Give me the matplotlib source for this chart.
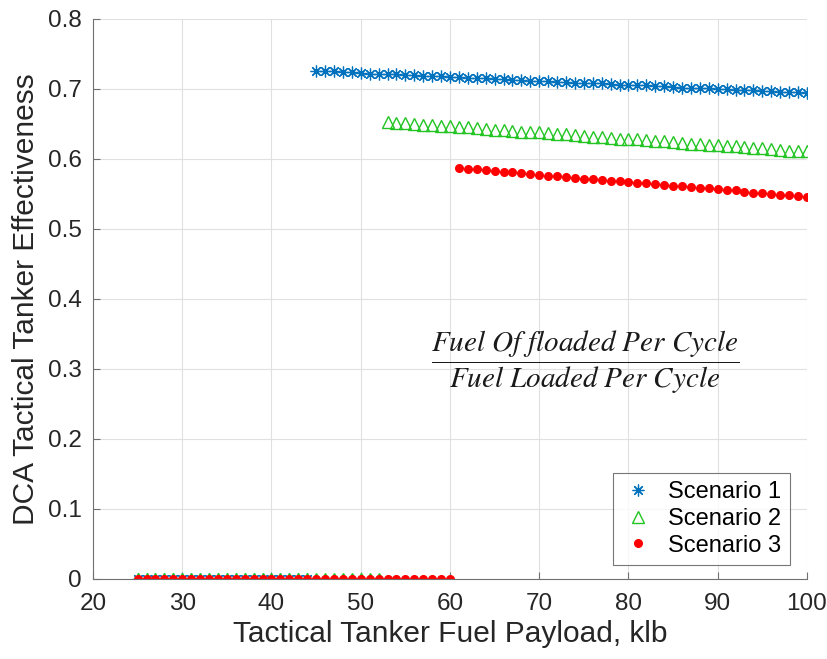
import numpy as np
import matplotlib.pyplot as plt

# x values (fuel payload, klb)
payload = np.arange(25, 101)

# Scenario 1: zero until 44 klb, then effectiveness
s1_zero = [0.0] * 20
s1_vals = [0.726, 0.725, 0.725, 0.724, 0.724, 0.723, 0.722, 0.722, 0.721, 0.721,
           0.720, 0.720, 0.719, 0.718, 0.718, 0.717, 0.717, 0.716, 0.716, 0.715,
           0.714, 0.714, 0.713, 0.713, 0.712, 0.712, 0.711, 0.710, 0.710, 0.709,
           0.709, 0.708, 0.708, 0.707, 0.706, 0.706, 0.705, 0.705, 0.704, 0.704,
           0.703, 0.702, 0.702, 0.701, 0.701, 0.700, 0.700, 0.699, 0.698, 0.698,
           0.697, 0.697, 0.696, 0.696, 0.695, 0.694]

# Scenario 2: zero until 52 klb
s2_zero = [0.0] * 28
s2_vals = [0.653, 0.652, 0.651, 0.650, 0.649, 0.648, 0.647, 0.647, 0.646, 0.645,
           0.644, 0.643, 0.642, 0.641, 0.640, 0.639, 0.638, 0.638, 0.637, 0.636,
           0.635, 0.634, 0.633, 0.632, 0.631, 0.630, 0.629, 0.629, 0.628, 0.627,
           0.626, 0.625, 0.624, 0.623, 0.622, 0.621, 0.620, 0.620, 0.619, 0.618,
           0.617, 0.616, 0.615, 0.614, 0.613, 0.612, 0.612, 0.611]

# Scenario 3: zero until 60 klb
s3_zero = [0.0] * 36
s3_vals = [0.587, 0.586, 0.585, 0.584, 0.583, 0.582, 0.581, 0.580, 0.578, 0.577,
           0.576, 0.575, 0.574, 0.573, 0.572, 0.571, 0.570, 0.569, 0.568, 0.567,
           0.566, 0.565, 0.564, 0.563, 0.562, 0.561, 0.560, 0.559, 0.558, 0.557,
           0.556, 0.555, 0.553, 0.552, 0.551, 0.550, 0.549, 0.548, 0.547, 0.546]

plt.rcParams['font.family'] = ['Liberation Sans', 'DejaVu Sans']
plt.rcParams['mathtext.fontset'] = 'stix'

fig = plt.figure(figsize=(8.28, 6.59), dpi=100)
ax = fig.add_axes([0.1123, 0.1214, 0.8623, 0.8498])

ax.plot(payload, s1_zero + s1_vals, linestyle='none', marker=(8, 2, 0),
        markersize=8.5, markeredgewidth=0.9, color='#0072BD', label='Scenario 1')
ax.plot(payload, s2_zero + s2_vals, linestyle='none', marker='^',
        markersize=8.5, markerfacecolor='none', markeredgewidth=1.0,
        color='#22C422', label='Scenario 2')
ax.plot(payload, s3_zero + s3_vals, linestyle='none', marker='o',
        markersize=5.5, color='#FF0000', label='Scenario 3')

ax.set_xlim(20, 100)
ax.set_ylim(0, 0.8)
ax.set_xticks(np.arange(20, 101, 10))
ax.set_yticks(np.arange(0, 0.81, 0.1))
ax.set_yticklabels(['0', '0.1', '0.2', '0.3', '0.4', '0.5', '0.6', '0.7', '0.8'])
ax.grid(True, color='#E0E0E0', linewidth=0.8)
ax.set_axisbelow(True)
ax.tick_params(direction='in', length=5, labelsize=17.5, labelcolor='#262626',
               color='#707070')
ax.tick_params(axis='x', pad=10)
ax.tick_params(axis='y', pad=8)
for side in ['top', 'right']:
    ax.spines[side].set_visible(False)
for side in ['left', 'bottom']:
    ax.spines[side].set_color('#707070')
    ax.spines[side].set_linewidth(0.8)

ax.set_xlabel('Tactical Tanker Fuel Payload, klb', fontsize=21.5, color='#262626',
              labelpad=4)
ax.set_ylabel('DCA Tactical Tanker Effectiveness', fontsize=21.5, color='#262626',
              labelpad=6)

# efficiency definition
ax.text(75.1, 0.31,
        r'$\dfrac{Fuel\ Of\ floaded\ Per\ Cycle}{Fuel\ Loaded\ Per\ Cycle}$',
        fontsize=21, ha='center', va='center', color='#1A1A1A')

leg = ax.legend(loc='lower right', bbox_to_anchor=(0.976, 0.025), borderaxespad=0,
                fontsize=17, frameon=True, fancybox=False, edgecolor='#555555',
                handlelength=1.4, handletextpad=0.6, borderpad=0.35,
                labelspacing=0.2)
leg.get_frame().set_linewidth(0.8)

plt.savefig('out.png', dpi=100)
